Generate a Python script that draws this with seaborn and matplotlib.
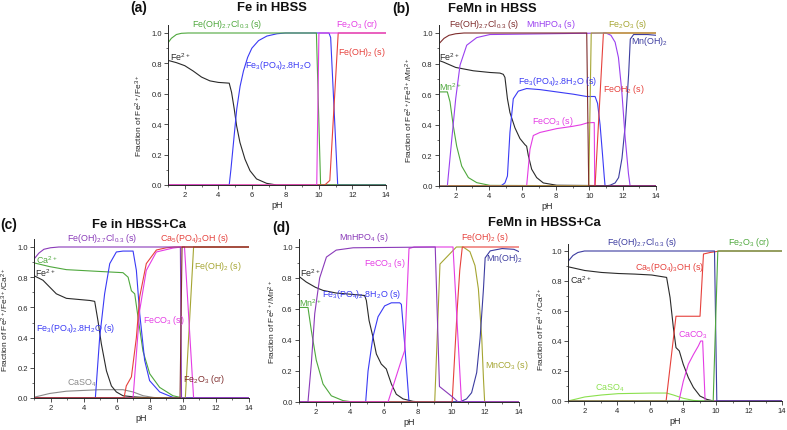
import matplotlib
matplotlib.use("Agg")
import matplotlib.pyplot as plt
from matplotlib.ticker import MultipleLocator, FormatStrFormatter
import seaborn as sns
import pandas as pd

# ---------------- data ----------------
# Panel (a) Fe in HBSS
A_FE2_PH = [1, 1.5, 2, 2.5, 3, 3.5, 4, 4.65, 4.79, 4.95, 5.09, 5.29, 5.59, 5.89, 6.28, 6.88, 7.48, 14]
A_FE2_Y = [0.82, 0.805, 0.785, 0.75, 0.71, 0.685, 0.675, 0.67, 0.61, 0.5, 0.39, 0.28, 0.17, 0.094, 0.04, 0.011, 0.0, 0.0]
A_FE3PO4_PH = [1, 4.65, 4.75, 4.95, 5.1, 5.3, 5.5, 5.75, 6.0, 6.4, 6.9, 7.5, 8.0, 10.6, 10.7, 11.12, 14]
A_FE3PO4_Y = [0, 0, 0.1, 0.33, 0.5, 0.65, 0.75, 0.84, 0.9, 0.95, 0.98, 0.995, 1.0, 1.0, 0.97, 0, 0]
A_FEOHCL_PH = [1, 1.2, 1.5, 1.8, 2.2, 9.85, 10.1, 14]
A_FEOHCL_Y = [0.935, 0.965, 0.99, 0.998, 1.0, 1.0, 0, 0]
A_FE2O3_PH = [1, 9.87, 10.0, 14]
A_FE2O3_Y = [0, 0, 1, 1]
A_FEOH2_PH = [1, 10.35, 10.65, 11.15, 14]
A_FEOH2_Y = [0, 0, 0.03, 1.0, 1.0]

# Panel (b) FeMn in HBSS
B_FEOHCL_PH = [1, 1.3, 1.6, 2, 2.5, 9.85, 9.97, 14]
B_FEOHCL_Y = [0.93, 0.965, 0.985, 0.995, 1, 1, 0, 0]
B_MNHPO4_PH = [1, 1.5, 1.76, 2.0, 2.26, 2.66, 3.26, 4.05, 11.0, 11.3, 11.55, 11.75, 11.95, 12.15, 12.35, 12.45, 14]
B_MNHPO4_Y = [0, 0, 0.3, 0.57, 0.79, 0.92, 0.97, 0.99, 1.0, 0.985, 0.94, 0.84, 0.62, 0.32, 0.08, 0, 0]
B_MNOH2_PH = [1, 10.95, 11.25, 11.55, 11.76, 11.96, 12.16, 12.36, 12.46, 12.66, 13.5, 14]
B_MNOH2_Y = [0, 0, 0.005, 0.02, 0.055, 0.18, 0.4, 0.73, 0.96, 0.99, 0.99, 0.985]
B_FE2_PH = [1, 1.26, 2, 3.06, 4.05, 4.65, 4.85, 4.95, 5.1, 5.25, 5.55, 5.85, 6.15, 6.25, 6.35, 6.55, 6.85, 7.25, 8.05, 14]
B_FE2_Y = [0.82, 0.81, 0.775, 0.753, 0.742, 0.738, 0.73, 0.71, 0.57, 0.48, 0.38, 0.31, 0.27, 0.26, 0.2, 0.11, 0.055, 0.02, 0.005, 0]
B_MN2_PH = [1, 1.5, 1.66, 1.86, 2.06, 2.36, 2.76, 3.26, 4.05, 14]
B_MN2_Y = [0.615, 0.615, 0.55, 0.39, 0.26, 0.13, 0.055, 0.022, 0.004, 0]
B_FE3PO4_PH = [1, 4.7, 4.95, 5.1, 5.25, 5.45, 5.75, 6.25, 7.05, 8.05, 9.05, 9.85, 10.35, 10.5, 10.65, 10.8, 10.9, 10.95, 14]
B_FE3PO4_Y = [0, 0, 0.02, 0.065, 0.35, 0.57, 0.62, 0.637, 0.63, 0.615, 0.6, 0.585, 0.585, 0.54, 0.4, 0.2, 0.06, 0, 0]
B_FECO3_PH = [1, 6.25, 6.45, 6.65, 7.05, 8.05, 9.0, 9.5, 9.9, 10.3, 10.33, 14]
B_FECO3_Y = [0, 0, 0.24, 0.33, 0.35, 0.375, 0.39, 0.4, 0.413, 0.415, 0, 0]
B_FE2O3_PH = [1, 9.97, 10.12, 14]
B_FE2O3_Y = [0, 0, 1, 1]
B_FEOH2_PH = [1, 10.35, 10.85, 14]
B_FEOH2_Y = [0, 0, 1, 1]

# Panel (c) Fe in HBSS+Ca
C_FEOHCL_PH = [1, 1.3, 1.6, 2, 2.5, 9.85, 9.92, 14]
C_FEOHCL_Y = [0.92, 0.96, 0.985, 0.995, 1, 1, 0, 0]
C_CA2_PH = [1, 1.95, 2.96, 4.97, 6.38, 6.69, 6.89, 7.09, 7.29, 7.59, 8.0, 8.6, 9.4, 10, 14]
C_CA2_Y = [0.895, 0.87, 0.85, 0.838, 0.83, 0.8, 0.71, 0.69, 0.535, 0.31, 0.16, 0.07, 0.015, 0, 0]
C_FE2_PH = [1, 1.54, 2.35, 2.96, 4.37, 4.67, 4.87, 5.07, 5.38, 5.68, 5.98, 6.38, 6.99, 7.6, 8.2, 14]
C_FE2_Y = [0.81, 0.78, 0.69, 0.66, 0.646, 0.64, 0.51, 0.36, 0.18, 0.08, 0.04, 0.015, 0.008, 0.004, 0, 0]
C_CASO4_PH = [1, 1.95, 2.96, 3.96, 4.97, 6.38, 6.99, 7.6, 8.2, 8.6, 14]
C_CASO4_Y = [0.005, 0.03, 0.045, 0.05, 0.055, 0.055, 0.04, 0.015, 0.004, 0, 0]
C_FE3PO4_PH = [1, 4.71, 4.97, 5.27, 5.58, 5.98, 6.38, 6.99, 7.19, 7.39, 7.69, 7.99, 8.6, 9.4, 9.8, 14]
C_FE3PO4_Y = [0, 0, 0.4, 0.69, 0.89, 0.967, 0.973, 0.973, 0.845, 0.56, 0.25, 0.115, 0.04, 0.004, 0, 0]
C_CAPO4_PH = [1, 6.44, 6.58, 6.89, 7.19, 7.39, 7.79, 8.4, 9.0, 9.5, 14]
C_CAPO4_Y = [0, 0, 0.08, 0.14, 0.4, 0.67, 0.89, 0.98, 0.995, 1.0, 1.0]
C_FECO3_PH = [1, 6.99, 7.19, 7.39, 7.79, 8.4, 9.4, 9.9, 10.1, 10.65, 14]
C_FECO3_Y = [0, 0, 0.29, 0.58, 0.845, 0.967, 0.993, 1.0, 1.0, 0, 0]
C_FE2O3_PH = [1, 9.83, 9.95, 14]
C_FE2O3_Y = [0, 0, 1, 1]
C_FEOH2_PH = [1, 10.15, 10.65, 14]
C_FEOH2_Y = [0, 0, 1, 1]

# Panel (d) FeMn in HBSS+Ca (Fe2+/Mn2+)
D_MNHPO4_PH = [1, 1.53, 1.73, 1.93, 2.22, 2.62, 3.2, 4.2, 9.05, 9.3, 10.1, 10.4, 14]
D_MNHPO4_Y = [0, 0, 0.25, 0.57, 0.8, 0.935, 0.98, 0.995, 1.0, 0.1, 0.03, 0, 0]
D_MNCO3_PH = [1, 9.02, 9.33, 10.3, 10.7, 11.1, 11.4, 11.6, 11.8, 11.9, 11.97, 14]
D_MNCO3_Y = [0, 0, 0.89, 1.0, 1.0, 0.97, 0.88, 0.73, 0.41, 0.15, 0, 0]
D_MNOH2_PH = [1, 10.5, 10.9, 11.2, 11.5, 11.7, 11.9, 12.0, 12.3, 13.0, 13.7, 14]
D_MNOH2_Y = [0, 0, 0.02, 0.06, 0.19, 0.41, 0.73, 0.93, 0.975, 0.99, 0.985, 0.97]
D_FEOH2_PH = [1, 10.05, 10.35, 10.5, 10.65, 14]
D_FEOH2_Y = [0, 0, 0.6, 0.85, 1.0, 1.0]
D_FECO3_PH = [1, 6.26, 7.05, 7.24, 7.5, 7.8, 10.1, 10.6, 14]
D_FECO3_Y = [0, 0, 0.27, 0.33, 0.99, 1.0, 1.0, 0, 0]
D_FE3PO4_PH = [1, 4.94, 5.08, 5.37, 5.67, 6.06, 6.46, 6.95, 7.05, 7.24, 7.5, 14]
D_FE3PO4_Y = [0, 0, 0.2, 0.42, 0.55, 0.62, 0.64, 0.64, 0.63, 0.38, 0, 0]
D_FE2_PH = [1, 1.43, 1.97, 2.42, 3.2, 4.19, 4.88, 4.98, 5.14, 5.37, 5.57, 5.86, 6.16, 6.26, 6.46, 6.75, 7.15, 7.74, 8.2, 14]
D_FE2_Y = [0.81, 0.774, 0.74, 0.72, 0.703, 0.694, 0.687, 0.655, 0.526, 0.42, 0.31, 0.245, 0.213, 0.18, 0.116, 0.05, 0.02, 0.004, 0, 0]
D_MN2_PH = [1, 1.53, 1.73, 2.02, 2.42, 2.91, 3.6, 4.19, 14]
D_MN2_Y = [0.61, 0.61, 0.46, 0.27, 0.116, 0.04, 0.009, 0, 0]

# Panel (e) FeMn in HBSS+Ca (Fe3+/Ca2+)
E_FEOHCL_PH = [1, 1.3, 1.6, 2, 2.5, 9.9, 10.04, 14]
E_FEOHCL_Y = [0.93, 0.97, 0.99, 1, 1, 1, 0, 0]
E_FE2O3_PH = [1, 9.82, 10.1, 14]
E_FE2O3_Y = [0, 0, 1, 1]
E_CA2_PH = [1, 2.02, 3.03, 4.05, 5.06, 6.08, 6.99, 7.2, 7.4, 7.56, 7.76, 8.0, 8.31, 8.62, 9.02, 9.43, 9.84, 14]
E_CA2_Y = [0.895, 0.87, 0.857, 0.85, 0.846, 0.84, 0.824, 0.69, 0.49, 0.356, 0.334, 0.245, 0.156, 0.09, 0.033, 0.011, 0, 0]
E_CASO4_PH = [1, 2.02, 3.03, 4.05, 5.06, 6.08, 6.99, 7.4, 8.0, 8.62, 9.0, 14]
E_CASO4_Y = [0, 0.027, 0.04, 0.049, 0.051, 0.053, 0.053, 0.04, 0.018, 0.004, 0, 0]
E_CAPO4_PH = [1, 6.96, 7.56, 9.02, 9.23, 9.63, 9.94, 10.2, 14]
E_CAPO4_Y = [0, 0, 0.565, 0.565, 0.98, 0.99, 0.995, 1.0, 1.0]
E_CACO3_PH = [1, 7.74, 8.0, 8.31, 8.62, 8.92, 9.06, 9.18, 9.33, 14]
E_CACO3_Y = [0, 0, 0.13, 0.245, 0.31, 0.367, 0.4, 0.4, 0, 0]

# ---------------- style ----------------
BLACK = "#2a2a2a"
GREEN = "#4fa83d"
BLUE = "#3a3af5"
MAGENTA = "#e43ce4"
RED = "#e6413c"
BROWN = "#7e2c2c"
LPURPLE = "#9a40f0"
PURPLE = "#8a3ab9"
OLIVE = "#a5a532"
NAVY = "#3c3ca0"
LIME = "#8be04e"
GRAY = "#8a8a8a"

sns.set_style("ticks")
plt.rcParams["font.family"] = ["Liberation Sans", "DejaVu Sans"]
plt.rcParams["mathtext.default"] = "regular"
plt.rcParams["axes.linewidth"] = 0.7

W, H = 787, 431
fig = plt.figure(figsize=(W / 100, H / 100), dpi=100)
LFS = 6.4   # series label font size
AFS = 6.0   # axis label font size
TFS = 9.4   # title font size


def axes_px(left, right, y1, y0):
    # y1 = pixel row of 1.0, y0 = pixel row of 0.0
    unit = y0 - y1
    top = y1 - 0.05 * unit
    return fig.add_axes([left / W, 1 - y0 / H, (right - left) / W, (y0 - top) / H])


def draw(ax, series):
    frames = []
    pal = {}
    for name, ph, y, col in series:
        frames.append(pd.DataFrame({"pH": ph, "frac": y, "species": name}))
        pal[name] = col
    df = pd.concat(frames, ignore_index=True)
    sns.lineplot(data=df, x="pH", y="frac", hue="species", palette=pal,
                 estimator=None, sort=False, legend=False, linewidth=0.8, ax=ax)
    ax.set_xlim(1, 14)
    ax.set_ylim(0, 1.05)
    ax.xaxis.set_major_locator(MultipleLocator(2))
    ax.xaxis.set_minor_locator(MultipleLocator(1))
    ax.yaxis.set_major_locator(MultipleLocator(0.2))
    ax.yaxis.set_minor_locator(MultipleLocator(0.1))
    ax.yaxis.set_major_formatter(FormatStrFormatter("%.1f"))
    ax.set_xticks([2, 4, 6, 8, 10, 12, 14])
    ax.tick_params(which="major", length=3, width=0.6, labelsize=5.5, pad=1.5, color="#333333")
    ax.tick_params(which="minor", length=1.6, width=0.5, color="#333333")
    sns.despine(ax=ax)
    ax.set_xlabel("pH", fontsize=6.5)
    ax.xaxis.set_label_coords(0.5, -0.095)


def lab(ax, x, y, s, c, ha="left"):
    ax.text(x, y, s, color=c, fontsize=LFS, ha=ha, va="center", clip_on=False)


def ftxt(x, y, s, size=TFS):
    fig.text(x / W, 1 - y / H, s, fontsize=size, fontweight="bold", ha="center", va="center", color="#111111")


FEOHCL = "Fe(OH)$_{2.7}$Cl$_{0.3}$ (s)"

# (a)
ax = axes_px(168, 386, 34, 186)
draw(ax, [
    ("Fe2+", A_FE2_PH, A_FE2_Y, BLACK),
    ("Fe3PO4", A_FE3PO4_PH, A_FE3PO4_Y, BLUE),
    ("FeOHCl", A_FEOHCL_PH, A_FEOHCL_Y, GREEN),
    ("FeOH2", A_FEOH2_PH, A_FEOH2_Y, RED),
    ("Fe2O3", A_FE2O3_PH, A_FE2O3_Y, MAGENTA),
])
ax.set_ylabel("Fraction of Fe$^{2+}$/Fe$^{3+}$", fontsize=AFS)
ax.yaxis.set_label_coords(-0.105, 0.44)
lab(ax, 2.43, 1.065, FEOHCL, GREEN)
lab(ax, 1.1, 0.85, "Fe$^{2+}$", BLACK)
lab(ax, 5.6, 0.79, "Fe$_3$(PO$_4$)$_2$.8H$_2$O", BLUE)
lab(ax, 11.0, 1.065, "Fe$_2$O$_3$ (cr)", MAGENTA)
lab(ax, 11.15, 0.875, "Fe(OH)$_2$ (s)", RED)

# (b)
ax = axes_px(439, 656, 34, 187)
draw(ax, [
    ("Fe2+", B_FE2_PH, B_FE2_Y, BLACK),
    ("Mn2+", B_MN2_PH, B_MN2_Y, GREEN),
    ("Fe3PO4", B_FE3PO4_PH, B_FE3PO4_Y, BLUE),
    ("FeCO3", B_FECO3_PH, B_FECO3_Y, MAGENTA),
    ("MnOH2", B_MNOH2_PH, B_MNOH2_Y, NAVY),
    ("FeOH2", B_FEOH2_PH, B_FEOH2_Y, RED),
    ("MnHPO4", B_MNHPO4_PH, B_MNHPO4_Y, LPURPLE),
    ("Fe2O3", B_FE2O3_PH, B_FE2O3_Y, OLIVE),
    ("FeOHCl", B_FEOHCL_PH, B_FEOHCL_Y, BROWN),
])
ax.set_ylabel("Fraction of Fe$^{2+}$/Fe$^{3+}$/Mn$^{2+}$", fontsize=AFS)
ax.yaxis.set_label_coords(-0.11, 0.48)
lab(ax, 1.6, 1.065, FEOHCL, BROWN)
lab(ax, 6.2, 1.065, "MnHPO$_4$ (s)", LPURPLE)
lab(ax, 11.1, 1.065, "Fe$_2$O$_3$ (s)", OLIVE)
lab(ax, 12.5, 0.95, "Mn(OH)$_2$", NAVY)
lab(ax, 1.0, 0.85, "Fe$^{2+}$", BLACK)
lab(ax, 1.0, 0.65, "Mn$^{2+}$", GREEN)
lab(ax, 5.75, 0.69, "Fe$_3$(PO$_4$)$_2$.8H$_2$O (s)", BLUE)
lab(ax, 10.85, 0.64, "FeOH$_2$ (s)", RED)
lab(ax, 6.6, 0.425, "FeCO$_3$ (s)", MAGENTA)

# (c)
ax = axes_px(34, 249, 248, 399)
draw(ax, [
    ("CaSO4", C_CASO4_PH, C_CASO4_Y, GRAY),
    ("Fe2+", C_FE2_PH, C_FE2_Y, BLACK),
    ("Ca2+", C_CA2_PH, C_CA2_Y, GREEN),
    ("Fe3PO4", C_FE3PO4_PH, C_FE3PO4_Y, BLUE),
    ("FeOH2", C_FEOH2_PH, C_FEOH2_Y, OLIVE),
    ("FeCO3", C_FECO3_PH, C_FECO3_Y, MAGENTA),
    ("CaPO4", C_CAPO4_PH, C_CAPO4_Y, RED),
    ("FeOHCl", C_FEOHCL_PH, C_FEOHCL_Y, PURPLE),
    ("Fe2O3", C_FE2O3_PH, C_FE2O3_Y, BROWN),
])
ax.set_ylabel("Fraction of Fe$^{2+}$/Fe$^{3+}$/Ca$^{2+}$", fontsize=AFS)
ax.yaxis.set_label_coords(-0.107, 0.5)
lab(ax, 3.0, 1.065, FEOHCL, PURPLE)
lab(ax, 8.6, 1.065, "Ca$_5$(PO$_4$)$_3$OH (s)", RED)
lab(ax, 1.15, 0.92, "Ca$^{2+}$", GREEN)
lab(ax, 1.05, 0.835, "Fe$^{2+}$", BLACK)
lab(ax, 10.7, 0.88, "Fe(OH)$_2$ (s)", OLIVE)
lab(ax, 1.1, 0.47, "Fe$_3$(PO$_4$)$_2$.8H$_2$O (s)", BLUE)
lab(ax, 7.6, 0.52, "FeCO$_3$ (s)", MAGENTA)
lab(ax, 3.0, 0.105, "CaSO$_4$", GRAY)
lab(ax, 10.0, 0.13, "Fe$_2$O$_3$ (cr)", BROWN)

# (d)
ax = axes_px(299, 519, 248, 403)
draw(ax, [
    ("Fe2+", D_FE2_PH, D_FE2_Y, BLACK),
    ("Mn2+", D_MN2_PH, D_MN2_Y, GREEN),
    ("Fe3PO4", D_FE3PO4_PH, D_FE3PO4_Y, BLUE),
    ("MnCO3", D_MNCO3_PH, D_MNCO3_Y, OLIVE),
    ("MnOH2", D_MNOH2_PH, D_MNOH2_Y, NAVY),
    ("FeOH2", D_FEOH2_PH, D_FEOH2_Y, RED),
    ("FeCO3", D_FECO3_PH, D_FECO3_Y, MAGENTA),
    ("MnHPO4", D_MNHPO4_PH, D_MNHPO4_Y, PURPLE),
])
ax.set_ylabel("Fraction of Fe$^{2+}$/Mn$^{2+}$", fontsize=AFS)
ax.yaxis.set_label_coords(-0.095, 0.5)
lab(ax, 3.35, 1.065, "MnHPO$_4$ (s)", PURPLE)
lab(ax, 10.6, 1.065, "Fe(OH)$_2$ (s)", RED)
lab(ax, 4.85, 0.9, "FeCO$_3$ (s)", MAGENTA)
lab(ax, 12.05, 0.935, "Mn(OH)$_2$", NAVY)
lab(ax, 1.05, 0.84, "Fe$^{2+}$", BLACK)
lab(ax, 2.35, 0.70, "Fe$_3$(PO$_4$)$_2$.8H$_2$O (s)", BLUE)
lab(ax, 1.0, 0.645, "Mn$^{2+}$", GREEN)
lab(ax, 12.0, 0.24, "MnCO$_3$ (s)", OLIVE)

# (e)
ax = axes_px(568, 782, 252, 402)
draw(ax, [
    ("CaSO4", E_CASO4_PH, E_CASO4_Y, LIME),
    ("Ca2+", E_CA2_PH, E_CA2_Y, BLACK),
    ("CaCO3", E_CACO3_PH, E_CACO3_Y, MAGENTA),
    ("CaPO4", E_CAPO4_PH, E_CAPO4_Y, RED),
    ("FeOHCl", E_FEOHCL_PH, E_FEOHCL_Y, NAVY),
    ("Fe2O3", E_FE2O3_PH, E_FE2O3_Y, GREEN),
])
ax.set_ylabel("Fraction of Fe$^{3+}$/Ca$^{2+}$", fontsize=AFS)
ax.yaxis.set_label_coords(-0.098, 0.46)
lab(ax, 3.37, 1.065, FEOHCL, NAVY)
lab(ax, 10.7, 1.065, "Fe$_2$O$_3$ (cr)", GREEN)
lab(ax, 5.1, 0.9, "Ca$_5$(PO$_4$)$_3$OH (s)", RED)
lab(ax, 1.1, 0.81, "Ca$^{2+}$", BLACK)
lab(ax, 7.7, 0.445, "CaCO$_3$", MAGENTA)
lab(ax, 2.65, 0.09, "CaSO$_4$", LIME)

# titles
ftxt(139, 8, "(a)", 10)
ftxt(272, 8, "Fe in HBSS")
ftxt(401, 9, "(b)", 10)
ftxt(492, 9, "FeMn in HBSS")
ftxt(9, 225, "(c)", 10)
ftxt(139, 225, "Fe in HBSS+Ca")
ftxt(281, 228, "(d)", 10)
ftxt(544, 223, "FeMn in HBSS+Ca")

fig.savefig("out.png", dpi=100)
